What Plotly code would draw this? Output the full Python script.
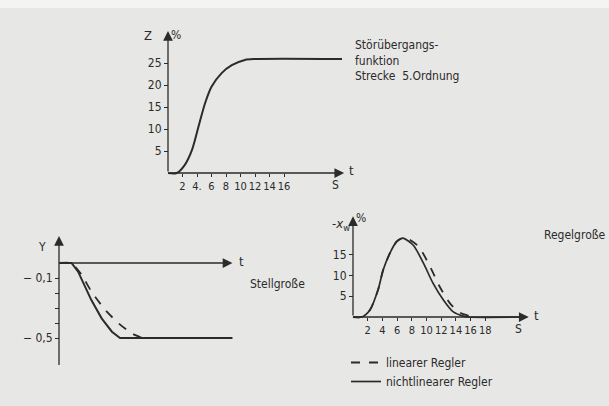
import plotly.graph_objects as go

W, H = 609, 406

# ---------------- data ----------------
# Top: Störübergangsfunktion (Strecke 5. Ordnung)
t_stoer = [0, 1.2, 2.3, 3.3, 4.2, 5.1, 6.0, 7.4, 8.8, 10.6, 12.0, 24.0]
z_stoer = [0, 0, 1.8, 5.2, 10.5, 15.8, 19.6, 22.7, 24.5, 25.7, 25.9, 25.9]
top_xticks = [2, 4, 6, 8, 10, 12, 14, 16]
top_xticktext = ["2", "4.", "6", "8", "10", "12", "14", "16"]
top_yticks = [5, 10, 15, 20, 25]

# Bottom left: Stellgröße
t_stell_nl = [0, 1.7, 2.6, 3.5, 4.4, 5.8, 7.2, 8.3, 23.6]
y_stell_nl = [0, 0, -0.058, -0.147, -0.247, -0.369, -0.458, -0.5, -0.5]
t_stell_lin = [0, 1.7, 2.3, 3.1, 4.4, 6.3, 8.1, 9.9, 11.3]
y_stell_lin = [0, 0, -0.03, -0.08, -0.19, -0.313, -0.402, -0.469, -0.5]
left_yticks = [-0.1, -0.2, -0.3, -0.4, -0.5]
left_yticktext = ["\u2212 0,1", "", "", "", "\u2212 0,5"]

# Bottom right: Regelgröße
t_regel_nl = [0, 1.2, 2.3, 3.4, 4.1, 5.0, 5.9, 6.4, 6.8, 8.2, 9.6, 10.9, 12.3, 13.6, 15.0, 15.6, 23.7]
x_regel_nl = [0, 0, 1.7, 6.5, 11.3, 15.3, 18.1, 18.8, 19.0, 17.3, 12.9, 8.1, 4.1, 1.3, 0.2, 0, 0]
t_regel_lin = [0, 1.2, 2.3, 3.4, 4.1, 5.0, 5.9, 6.6, 7.3, 8.9, 10.5, 11.8, 13.2, 14.6, 15.9, 16.4]
x_regel_lin = [0, 0, 1.7, 6.5, 11.3, 15.3, 18.1, 18.9, 19.0, 17.0, 12.1, 7.3, 3.3, 1.0, 0.2, 0]
right_xticks = [2, 4, 6, 8, 10, 12, 14, 16, 18]
right_yticks = [5, 10, 15]

legend_names = ["linearer Regler", "nichtlinearer Regler"]

# ---------------- layout helpers ----------------
INK = "#2b2b2b"
BG = "#e7e7e5"
FONT = "DejaVu Sans Condensed, Liberation Sans Narrow, sans-serif"

panels = {
    # name: origin px (ox, oy), px per unit (sx, sy), box px (x0, x1, y0, y1)
    "top": dict(ox=168, oy=173, sx=7.25, sy=4.4, box=(150, 352, 26, 180)),
    "left": dict(ox=59, oy=263, sx=7.35, sy=150.0, box=(30, 240, 228, 372)),
    "right": dict(ox=353, oy=317, sx=7.35, sy=4.15, box=(335, 540, 208, 322)),
}

fig = go.Figure()
layout = dict(
    width=W, height=H, margin=dict(l=0, r=0, t=0, b=0),
    paper_bgcolor=BG, plot_bgcolor="rgba(0,0,0,0)",
    font=dict(family=FONT, size=12, color=INK),
    showlegend=True,
)

axis_ids = {"top": ("x", "y"), "left": ("x2", "y2"), "right": ("x3", "y3")}

for name, p in panels.items():
    x0, x1, y0, y1 = p["box"]
    xr = [(x0 - p["ox"]) / p["sx"], (x1 - p["ox"]) / p["sx"]]
    yr = [(p["oy"] - y1) / p["sy"], (p["oy"] - y0) / p["sy"]]
    xa, ya = axis_ids[name]
    xkey = "xaxis" if xa == "x" else "xaxis" + xa[1:]
    ykey = "yaxis" if ya == "y" else "yaxis" + ya[1:]
    layout[xkey] = dict(
        domain=[x0 / W, x1 / W], range=xr, anchor="free",
        position=1 - p["oy"] / H, showgrid=False,
        zeroline=False, showline=False, ticks="", showticklabels=False,
        tickangle=0,
    )
    layout[ykey] = dict(
        domain=[1 - y1 / H, 1 - y0 / H], range=yr, anchor="free",
        position=p["ox"] / W, showgrid=False,
        zeroline=False, showline=False, ticks="outside", ticklen=4,
        tickcolor=INK, tickwidth=1.2, tickangle=0,
    )

# tick settings
layout["xaxis"].update(tickmode="array", tickvals=top_xticks, ticktext=top_xticktext,
                       showticklabels=True, ticks="outside", ticklen=3, tickcolor=INK,
                       tickfont=dict(size=11))
layout["yaxis"].update(tickmode="array", tickvals=top_yticks, tickfont=dict(size=12))
layout["xaxis2"].update(tickvals=[])
layout["yaxis2"].update(tickmode="array", tickvals=left_yticks, ticktext=left_yticktext,
                        tickfont=dict(size=12))
layout["xaxis3"].update(tickmode="array", tickvals=right_xticks,
                        ticktext=[str(v) for v in right_xticks], showticklabels=True,
                        ticks="outside", ticklen=3, tickcolor=INK,
                        tickfont=dict(size=11))
layout["yaxis3"].update(tickmode="array", tickvals=right_yticks, tickfont=dict(size=12))

# ---------------- traces ----------------
fig.add_trace(go.Scatter(x=t_stoer, y=z_stoer, mode="lines", xaxis="x", yaxis="y",
                         line=dict(color=INK, width=2, shape="spline", smoothing=0.8),
                         showlegend=False))
fig.add_trace(go.Scatter(x=t_stell_lin, y=y_stell_lin, mode="lines", xaxis="x2", yaxis="y2",
                         line=dict(color=INK, width=1.8, dash="dash", shape="spline",
                                   smoothing=0.6), showlegend=False))
fig.add_trace(go.Scatter(x=t_stell_nl, y=y_stell_nl, mode="lines", xaxis="x2", yaxis="y2",
                         line=dict(color=INK, width=2), showlegend=False))
fig.add_trace(go.Scatter(x=t_regel_lin, y=x_regel_lin, mode="lines", xaxis="x3", yaxis="y3",
                         line=dict(color=INK, width=1.8, dash="dash", shape="spline",
                                   smoothing=0.8), name=legend_names[0]))
fig.add_trace(go.Scatter(x=t_regel_nl, y=x_regel_nl, mode="lines", xaxis="x3", yaxis="y3",
                         line=dict(color=INK, width=1.7, shape="spline", smoothing=0.8),
                         name=legend_names[1]))

layout["legend"] = dict(
    x=346 / W, y=1 - 348 / H, xanchor="left", yanchor="top",
    bgcolor="rgba(0,0,0,0)", font=dict(size=12, color=INK),
    itemwidth=30, tracegroupgap=0,
)

# ---------------- axes with arrows ----------------
annotations = []


def axis_arrow(xref, yref, x_from, y_from, x_to, y_to):
    annotations.append(dict(
        x=x_to, y=y_to, ax=x_from, ay=y_from, xref=xref, yref=yref,
        axref=xref, ayref=yref, text="", showarrow=True,
        arrowhead=2, arrowsize=1.5, arrowwidth=1.3, arrowcolor=INK,
    ))


axis_arrow("x", "y", 0, 0, 24.3, 0)
axis_arrow("x", "y", 0, 0, 0, 32.3)
axis_arrow("x2", "y2", 0, 0, 23.6, 0)
axis_arrow("x2", "y2", 0, -0.69, 0, 0.18)
axis_arrow("x3", "y3", 0, 0, 23.9, 0)
axis_arrow("x3", "y3", 0, 0, 0, 24.3)


def label(text, px, py, size=12, xanchor="center", yanchor="middle", align="left"):
    annotations.append(dict(
        text=text, x=px / W, y=1 - py / H, xref="paper", yref="paper",
        showarrow=False, xanchor=xanchor, yanchor=yanchor, align=align,
        font=dict(size=size, color=INK, family=FONT),
    ))


# top panel labels
label("Z", 148, 35, 13)
label("%", 176, 35, 12)
label("t", 351, 170, 13)
label("S", 335, 185, 12)
label("Störübergangs-<br>funktion<br>Strecke  5.Ordnung", 353, 60, 12, xanchor="left")

# left panel labels
label("Y", 42, 247, 12)
label("t", 241, 261, 13)
label("Stellgroße", 248, 284, 12, xanchor="left")

# right panel labels
label("-<i>x</i><sub>w</sub>", 341, 224, 13)
label("%", 361, 218, 12)
label("t", 536, 315, 13)
label("S", 518, 329, 12)
label("Regelgroße", 542, 235, 12, xanchor="left")

layout["annotations"] = annotations
layout["shapes"] = [dict(type="rect", xref="paper", yref="paper", x0=0, x1=1,
                         y0=1 - 8 / H, y1=1, fillcolor="#f4f4f3", line=dict(width=0),
                         layer="below")]

fig.update_layout(**layout)
fig.write_html("out.html")
